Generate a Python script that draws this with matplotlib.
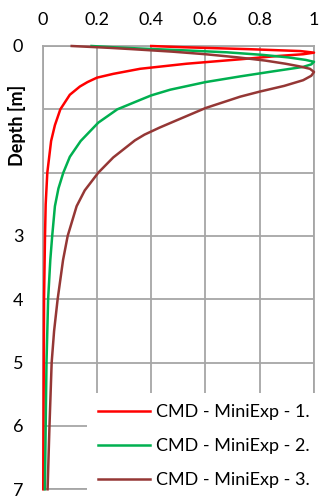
import matplotlib
matplotlib.use('Agg')
import matplotlib.pyplot as plt

plt.rcParams['font.family'] = ['Lato', 'DejaVu Sans']

# depth [m] and normalised values
depth_1 = [0, 0.02, 0.05, 0.08, 0.105, 0.13, 0.16, 0.21, 0.28, 0.36, 0.44, 0.50,
           0.57, 0.64, 0.77, 1.0, 1.25, 1.5, 2.0, 2.5, 3.0, 4.0, 5.0, 6.0, 7.0]
val_1 = [0.40, 0.52, 0.76, 0.95, 1.0, 0.96, 0.86, 0.728, 0.53, 0.359, 0.26, 0.20,
         0.165, 0.137, 0.10, 0.065, 0.045, 0.031, 0.017, 0.011, 0.0085, 0.005, 0.004, 0.003, 0.002]

depth_2 = [0, 0.02, 0.04, 0.07, 0.10, 0.14, 0.18, 0.22, 0.25, 0.29, 0.33, 0.40,
           0.48, 0.57, 0.69, 0.78, 0.85, 1.0, 1.21, 1.5, 1.75, 2.0, 2.25, 2.53,
           3.0, 3.38, 4.0, 5.0, 6.0, 7.0]
val_2 = [0.18, 0.26, 0.36, 0.53, 0.68, 0.81, 0.905, 0.97, 1.0, 0.99, 0.96, 0.85,
         0.728, 0.60, 0.47, 0.40, 0.36, 0.275, 0.205, 0.14, 0.10, 0.076, 0.058, 0.045,
         0.035, 0.028, 0.02, 0.014, 0.011, 0.008]

depth_3 = [0, 0.03, 0.05, 0.09, 0.13, 0.18, 0.23, 0.28, 0.32, 0.36, 0.41, 0.47,
           0.54, 0.63, 0.72, 0.80, 0.98, 1.18, 1.29, 1.40, 1.49, 1.76, 2.0, 2.28,
           2.53, 3.0, 3.38, 4.0, 4.5, 5.0, 6.0, 7.0]
val_3 = [0.107, 0.25, 0.33, 0.48, 0.60, 0.72, 0.82, 0.895, 0.945, 0.985, 1.0, 0.99,
         0.96, 0.89, 0.80, 0.728, 0.60, 0.49, 0.43, 0.375, 0.34, 0.26, 0.205, 0.155,
         0.125, 0.092, 0.075, 0.055, 0.042, 0.033, 0.025, 0.018]

labels = ['CMD - MiniExp - 1.', 'CMD - MiniExp - 2.', 'CMD - MiniExp - 3.']
colors = ['#FF0000', '#00B050', '#953735']
x_ticks = [0, 0.2, 0.4, 0.6, 0.8, 1]
x_tick_labels = ['0', '0.2', '0.4', '0.6', '0.8', '1']
y_ticks = [0, 1, 2, 3, 4, 5, 6, 7]
y_tick_labels = ['0', '', '', '3', '4', '5', '6', '7']

fig = plt.figure(figsize=(3.2, 4.97), dpi=100)
ax = fig.add_axes([42.7/320, 1 - 489.3/497, (314 - 42.7)/320, (489.3 - 46)/497])

for d, v, lab, c in zip([depth_1, depth_2, depth_3], [val_1, val_2, val_3], labels, colors):
    ax.plot(v, d, color=c, lw=1.8, label=lab, clip_on=False, zorder=3,
            solid_joinstyle='round')

ax.set_xlim(0, 1)
ax.set_ylim(7, 0)
ax.xaxis.tick_top()
ax.set_xticks(x_ticks)
ax.set_xticklabels(x_tick_labels)
ax.set_yticks(y_ticks)
ax.set_yticklabels(y_tick_labels)
ax.tick_params(axis='both', length=0, labelsize=13, colors='black')
ax.tick_params(axis='x', pad=13)
ax.tick_params(axis='y', pad=14)
ax.grid(True, color='#A6A6A6', lw=1.3)
ax.set_axisbelow(True)
for s in ax.spines.values():
    s.set_color('#A6A6A6')
    s.set_linewidth(1.3)

fig.text(17/320, 1 - 125/497, 'Depth [m]', rotation=90, ha='center', va='center',
         fontsize=13, fontweight='bold')

leg = ax.legend(loc='upper left', bbox_to_anchor=(87/320, 1 - 393/497),
                bbox_transform=fig.transFigure, borderaxespad=0, borderpad=0.6,
                fontsize=13, handlelength=2.9, handletextpad=0.3, labelspacing=1.0,
                frameon=True, fancybox=False, facecolor='white', edgecolor='none',
                framealpha=1)
leg.set_zorder(10)

fig.savefig('out.png', dpi=100)
